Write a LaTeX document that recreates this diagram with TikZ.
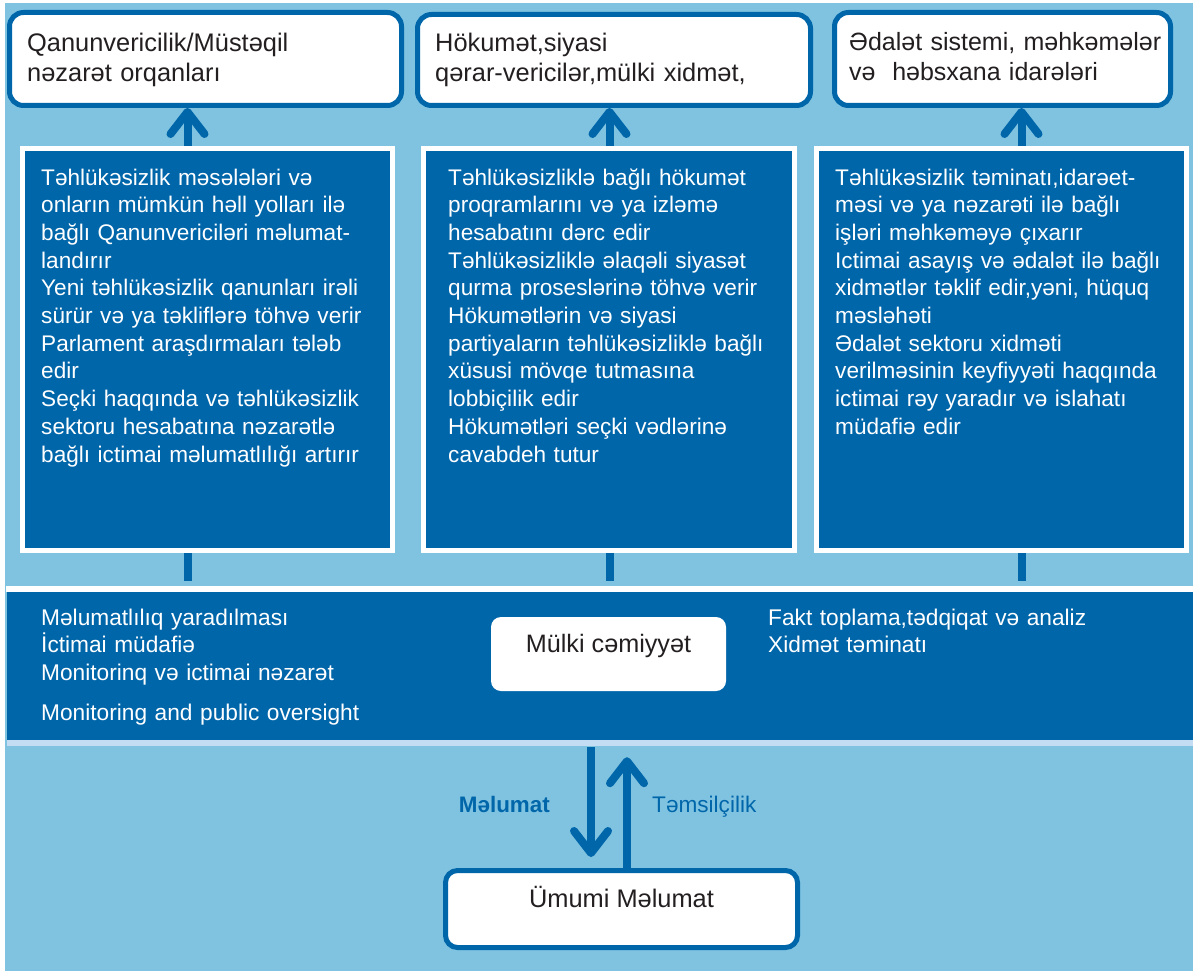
\documentclass[tikz,border=0pt]{standalone}
\usepackage{fontspec}
\setmainfont{Liberation Sans}
\usetikzlibrary{arrows.meta,calc}
\definecolor{dblue}{RGB}{0,102,170}
\definecolor{lblue}{RGB}{128,195,225}
\definecolor{pblue}{RGB}{197,221,242}
\definecolor{ink}{RGB}{35,31,32}
\begin{document}
\begin{tikzpicture}[x=1pt,y=-1pt,
  topbox/.style={draw=dblue, line width=5pt, fill=white, rounded corners=14pt, inner sep=0pt},
  panel/.style={draw=white, line width=5pt, fill=dblue, inner sep=0pt},
  ptext/.style={text=white, font=\fontsize{22.6}{27.7}\selectfont, text width=360pt, align=left, inner sep=0pt, anchor=base west},
  btext/.style={text=ink, font=\fontsize{25.4}{30}\selectfont, text width=380pt, align=left, inner sep=0pt, anchor=base west},
  mtext/.style={text=white, font=\fontsize{22.7}{27.5}\selectfont, text width=400pt, align=left, inner sep=0pt, anchor=base west},
  ctext/.style={text=ink, font=\fontsize{25.4}{30}\selectfont, inner sep=0pt, anchor=base},
  uparr/.style={draw=dblue, line width=8pt, -{Straight Barb[length=22pt,width=34pt,round]}},
  stub/.style={draw=dblue, line width=8pt},
  lbl/.style={text=dblue, font=\fontsize{22.6}{26}\selectfont, inner sep=0pt},
]
\useasboundingbox (0,0) rectangle (1193,971);
\fill[white] (0,0) rectangle (1193,971);
\fill[lblue] (5,3) rectangle (1193,971);

% top boxes
\node[topbox, minimum width=392pt, minimum height=93pt] (b1) at (205.5,59) {};
\node[topbox, minimum width=393pt, minimum height=91pt] (b2) at (614,60) {};
\node[topbox, minimum width=336pt, minimum height=93pt] (b3) at (1002.5,59) {};
\node[btext] (bt1) at (27,52) {Qanunvericilik/Müstəqil\\nəzarət orqanları};
\node[btext] (bt2) at (435,52) {Hökumət,siyasi\\qərar-vericilər,mülki xidmət,};
\node[btext, font=\fontsize{25}{30}\selectfont] (bt3) at (849,51) {Ədalət sistemi, məhkəmələr\\və\ \ həbsxana idarələri};

% panels
\node[panel, minimum width=370pt, minimum height=402pt] (p1) at (207.5,349.5) {};
\node[panel, minimum width=371pt, minimum height=402pt] (p2) at (609,349.5) {};
\node[panel, minimum width=370pt, minimum height=402pt] (p3) at (1001.5,349.5) {};

\node[ptext] (pt1) at (41,185) {Təhlükəsizlik məsələləri və\\
onların mümkün həll yolları ilə\\
bağlı Qanunvericiləri məlumat-\\
landırır\\
Yeni təhlükəsizlik qanunları irəli\\
sürür və ya təkliflərə töhvə verir\\
Parlament araşdırmaları tələb\\
edir\\
Seçki haqqında və təhlükəsizlik\\
sektoru hesabatına nəzarətlə\\
bağlı ictimai məlumatlılığı artırır};

\node[ptext] (pt2) at (448,185) {Təhlükəsizliklə bağlı hökumət\\
proqramlarını və ya izləmə\\
hesabatını dərc edir\\
Təhlükəsizliklə əlaqəli siyasət\\
qurma proseslərinə töhvə verir\\
Hökumətlərin və siyasi\\
partiyaların təhlükəsizliklə bağlı\\
xüsusi mövqe tutmasına\\
lobbiçilik edir\\
Hökumətləri seçki vədlərinə\\
cavabdeh tutur};

\node[ptext] (pt3) at (835,185) {Təhlükəsizlik təminatı,idarəet-\\
məsi və ya nəzarəti ilə bağlı\\
işləri məhkəməyə çıxarır\\
Ictimai asayış və ədalət ilə bağlı\\
xidmətlər təklif edir,yəni, hüquq\\
məsləhəti\\
Ədalət sektoru xidməti\\
verilməsinin keyfiyyəti haqqında\\
ictimai rəy yaradır və islahatı\\
müdafiə edir};

% arrow axes
\coordinate (a1) at (187.5,0);
\coordinate (a2) at (609.5,0);
\coordinate (a3) at (1021.5,0);
\coordinate (d1) at (591,0);
\coordinate (d2) at (627,0);

% band
\fill[white] (6,586) rectangle (1193,592);
\node[fill=dblue, inner sep=0pt, minimum width=1186pt, minimum height=148pt] (band) at (600,666) {};

% arrows up to top boxes
\draw[uparr] (a1 |- p1.north) -- (a1 |- b1.south);
\draw[uparr] (a2 |- p2.north) -- (a2 |- b2.south);
\draw[uparr] (a3 |- p3.north) -- (a3 |- b3.south);

% stubs
\draw[stub, shorten >=11pt] (a1 |- p1.south) -- (a1 |- band.north);
\draw[stub, shorten >=11pt] (a2 |- p2.south) -- (a2 |- band.north);
\draw[stub, shorten >=11pt] (a3 |- p3.south) -- (a3 |- band.north);

% band content
\node[fill=white, rounded corners=10pt, inner sep=0pt, minimum width=235pt, minimum height=74pt] (m) at (608.5,654) {};
\node[ctext, font=\fontsize{25.2}{30}\selectfont] (mt) at ([yshift=2pt]m.center) {Mülki cəmiyyət};
\node[mtext] (ml) at (41,625) {Məlumatlılıq yaradılması\\İctimai müdafiə\\Monitorinq və ictimai nəzarət};
\node[mtext] (ml2) at (41,720) {Monitoring and public oversight};
\node[mtext] (mr) at (768,625) {Fakt toplama,tədqiqat və analiz\\Xidmət təminatı};

% bottom
\node[topbox, rounded corners=12pt, minimum width=352pt, minimum height=77pt] (u) at (621.5,909) {};
\node[ctext] (ut) at ([yshift=2pt]u.center) {Ümumi Məlumat};

\draw[uparr, shorten <=7pt, shorten >=11pt] (d1 |- band.south) -- (d1 |- u.north);
\draw[uparr, shorten >=17pt] (d2 |- u.north) -- (d2 |- band.south);
\fill[pblue] (7,740) rectangle (1193,746);

\node[lbl, font=\bfseries\fontsize{22.4}{26}\selectfont, anchor=base east] (lm) at (550,812) {Məlumat};
\node[lbl, anchor=base west] (lt) at (652,812) {Təmsilçilik};
\end{tikzpicture}
\end{document}
